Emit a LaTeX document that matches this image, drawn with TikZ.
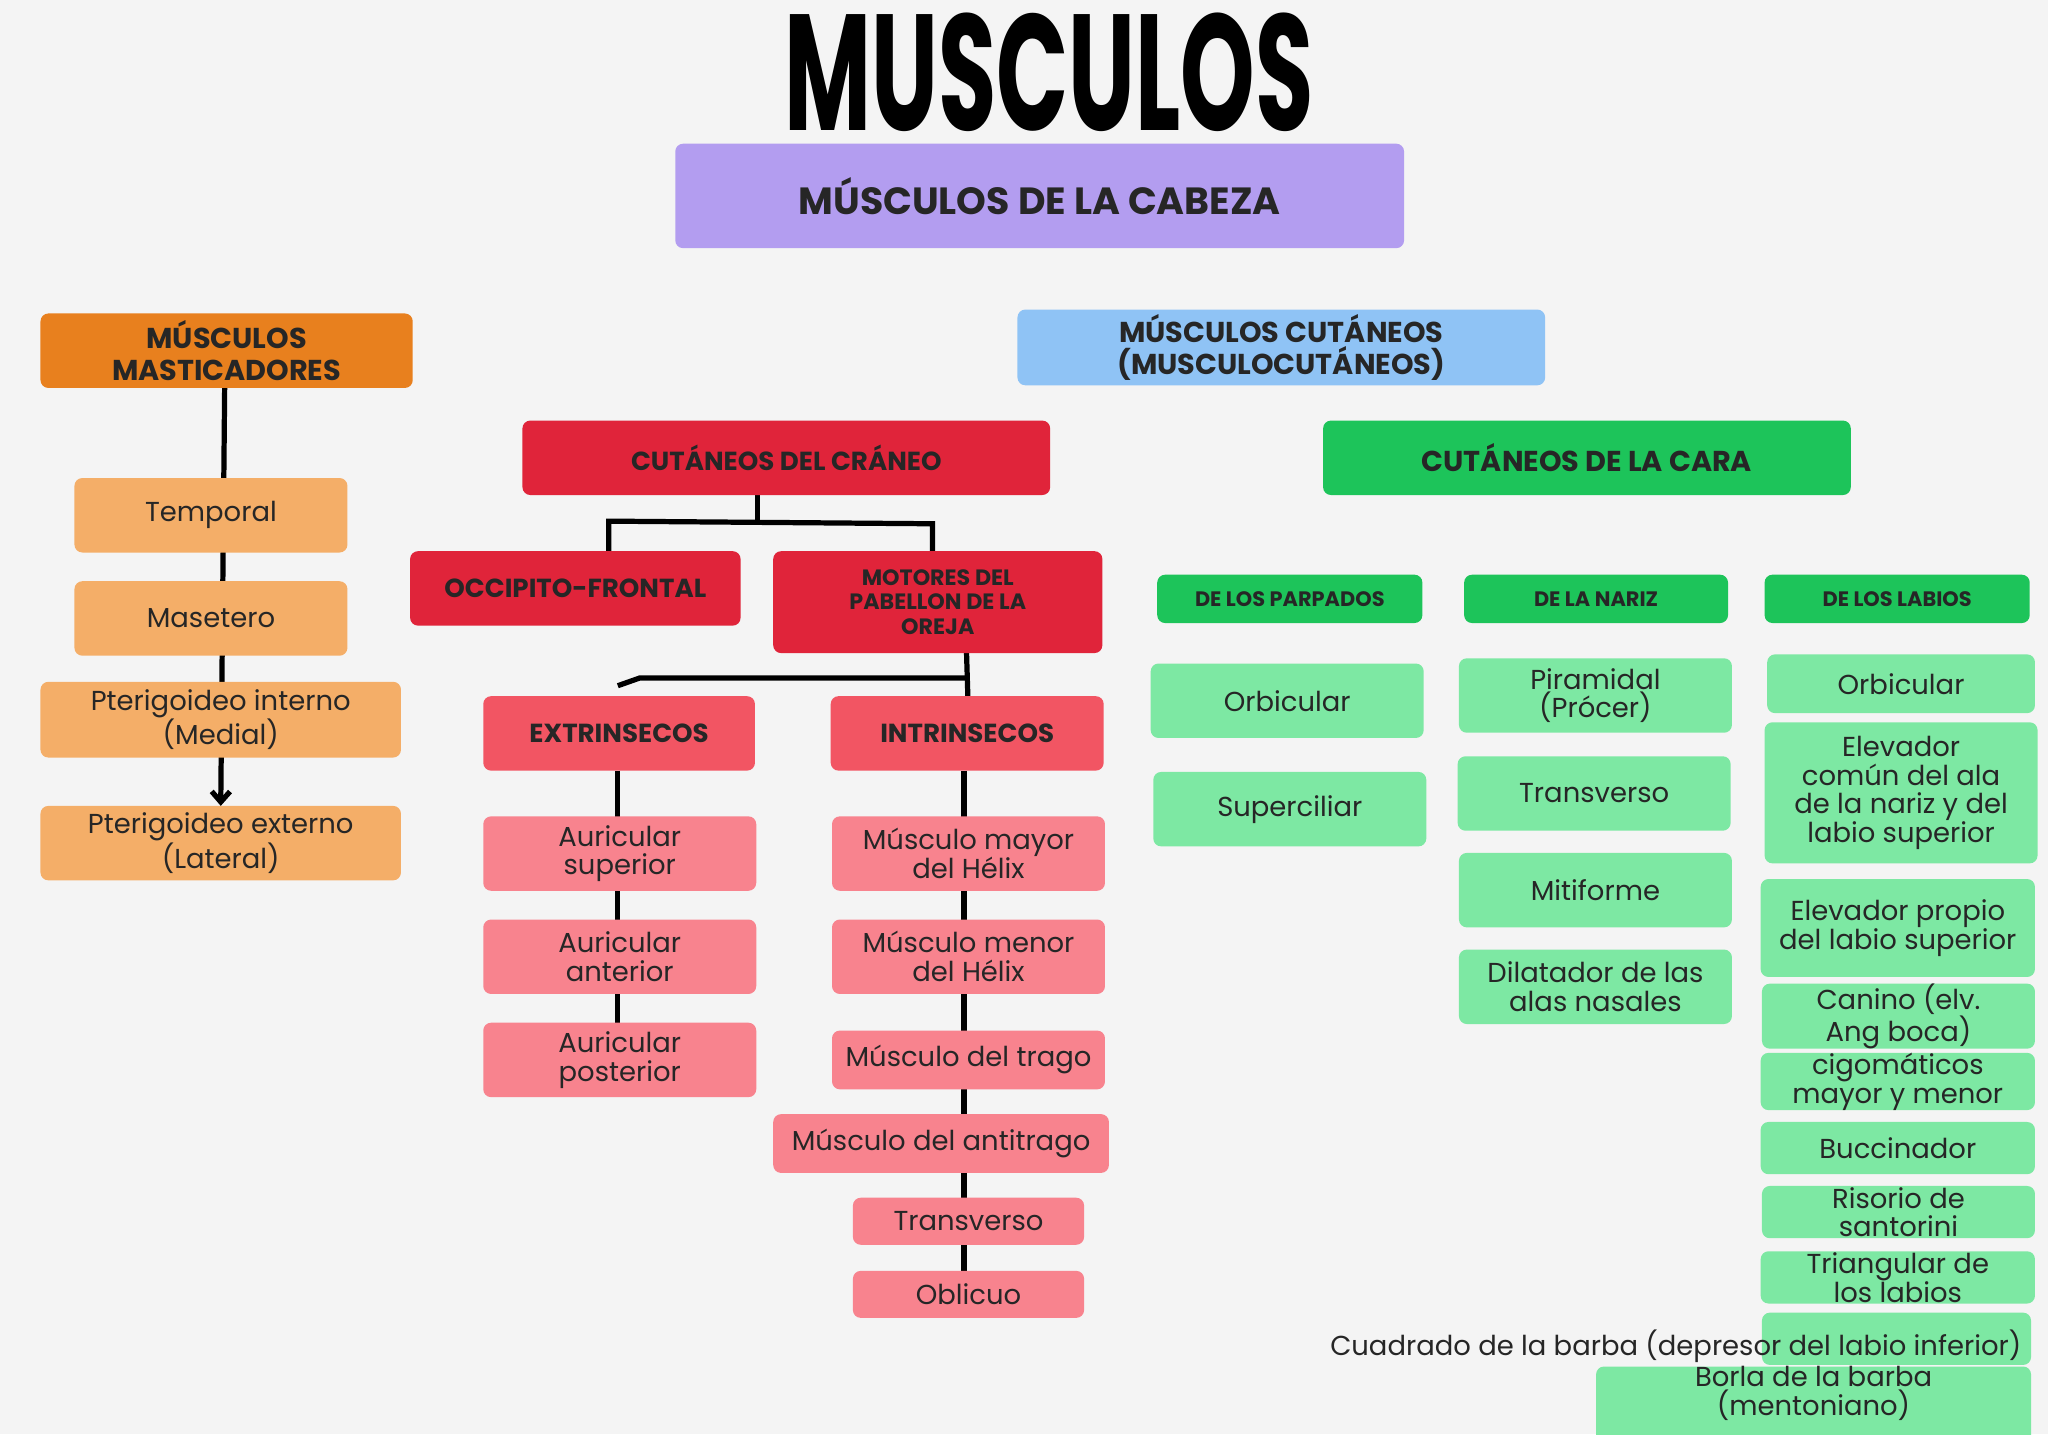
\documentclass[tikz,border=0pt]{standalone}
\usepackage{fontspec}
\setmainfont{Poppins}
\usetikzlibrary{arrows.meta}
\definecolor{bg}{HTML}{F4F4F4}
\definecolor{purp}{HTML}{B39DF0}
\definecolor{orD}{HTML}{E8801E}
\definecolor{orL}{HTML}{F4AE68}
\definecolor{blu}{HTML}{8FC3F5}
\definecolor{redD}{HTML}{E0243A}
\definecolor{redM}{HTML}{F25563}
\definecolor{pinkL}{HTML}{F8838E}
\definecolor{grD}{HTML}{1DC45A}
\definecolor{grL}{HTML}{7DE8A3}
\tikzset{
 bb/.style={rounded corners=6pt, inner sep=0pt, align=center, text=black!85},
 body/.style={bb, font=\fontsize{21}{22}\selectfont},
 head/.style={bb, font=\bfseries\fontsize{22}{24}\selectfont},
 small/.style={bb, font=\bfseries\fontsize{16}{17}\selectfont},
 conn/.style={line width=4pt, black}
}
\newcommand\mybox[7]{\node[#6, minimum width={(#4-#2)*1pt}, minimum height={(#5-#3)*1pt}] (#1) at ({(#2+#4)/2},{-(#3+#5)/2}) {#7};}
\begin{document}
\begin{tikzpicture}[x=1pt,y=1pt]
\fill[bg] (0,0) rectangle (1568,-1098);
\useasboundingbox (0,0) rectangle (1568,-1098);
% connectors first
\coordinate (m1) at (172,-297); \coordinate (m2) at (169,-617);
\draw[conn,-{Straight Barb[length=8pt,width=14pt]}] (m1) -- (m2);
\coordinate (c1) at (580,-379); \coordinate (c2) at (580,-399);
\coordinate (c3) at (466,-399); \coordinate (c4) at (714,-401);
\coordinate (c5) at (466,-422); \coordinate (c6) at (714,-422);
\draw[conn] (c1)--(c2); \draw[conn] (c5)--(c3)--(c4)--(c6);
\coordinate (d1) at (740,-500); \coordinate (d2) at (741,-533);
\coordinate (d3) at (740,-519); \coordinate (d4) at (490,-519); \coordinate (d5) at (473,-525);
\draw[conn] (d1)--(d2); \draw[conn] (d3)--(d4)--(d5);
\coordinate (e1) at (473,-590); \coordinate (e2) at (473,-783);
\draw[conn] (e1)--(e2);
\coordinate (f1) at (738,-590); \coordinate (f2) at (738,-973);
\draw[conn] (f1)--(f2);
% title
\node[inner sep=0pt] (title) at (803,-55) {\resizebox{405pt}{90pt}{\bfseries MUSCULOS}};
\mybox{cab}{517}{110}{1075}{190}{head,fill=purp,font=\bfseries\fontsize{29}{30}\selectfont}{MÚSCULOS DE LA CABEZA}
\mybox{mast}{31}{240}{316}{297}{head,fill=orD}{MÚSCULOS\\MASTICADORES}
\mybox{temp}{57}{366}{266}{423}{body,fill=orL}{Temporal}
\mybox{mase}{57}{445}{266}{502}{body,fill=orL}{Masetero}
\mybox{pti}{31}{522}{307}{580}{body,fill=orL}{Pterigoideo interno\\(Medial)}
\mybox{pte}{31}{617}{307}{674}{body,fill=orL}{Pterigoideo externo\\(Lateral)}
\mybox{cut}{779}{237}{1183}{295}{head,fill=blu}{MÚSCULOS CUTÁNEOS\\(MUSCULOCUTÁNEOS)}
\mybox{cra}{400}{322}{804}{379}{head,fill=redD,font=\bfseries\fontsize{20}{22}\selectfont}{CUTÁNEOS DEL CRÁNEO}
\mybox{occ}{314}{422}{567}{479}{head,fill=redD,font=\bfseries\fontsize{20}{22}\selectfont}{OCCIPITO-FRONTAL}
\mybox{mot}{592}{422}{844}{500}{head,fill=redD,font=\bfseries\fontsize{17}{19}\selectfont}{MOTORES DEL\\PABELLON DE LA\\OREJA}
\mybox{ext}{370}{533}{578}{590}{head,fill=redM,font=\bfseries\fontsize{20}{22}\selectfont}{EXTRINSECOS}
\mybox{int}{636}{533}{845}{590}{head,fill=redM,font=\bfseries\fontsize{20}{22}\selectfont}{INTRINSECOS}
\mybox{as}{370}{625}{579}{682}{body,fill=pinkL}{Auricular\\superior}
\mybox{aa}{370}{704}{579}{761}{body,fill=pinkL}{Auricular\\anterior}
\mybox{ap}{370}{783}{579}{840}{body,fill=pinkL}{Auricular\\posterior}
\mybox{mma}{637}{625}{846}{682}{body,fill=pinkL}{Músculo mayor\\del Hélix}
\mybox{mme}{637}{704}{846}{761}{body,fill=pinkL}{Músculo menor\\del Hélix}
\mybox{mtr}{637}{789}{846}{834}{body,fill=pinkL}{Músculo del trago}
\mybox{man}{592}{853}{849}{898}{body,fill=pinkL}{Músculo del antitrago}
\mybox{tra}{653}{917}{830}{953}{body,fill=pinkL}{Transverso}
\mybox{obl}{653}{973}{830}{1009}{body,fill=pinkL}{Oblicuo}
\mybox{car}{1013}{322}{1417}{379}{head,fill=grD}{CUTÁNEOS DE LA CARA}
\mybox{par}{886}{440}{1089}{477}{small,fill=grD}{DE LOS PARPADOS}
\mybox{nar}{1121}{440}{1323}{477}{small,fill=grD}{DE LA NARIZ}
\mybox{lab}{1351}{440}{1554}{477}{small,fill=grD}{DE LOS LABIOS}
\mybox{porb}{881}{508}{1090}{565}{body,fill=grL}{Orbicular}
\mybox{psup}{883}{591}{1092}{648}{body,fill=grL}{Superciliar}
\mybox{npir}{1117}{504}{1326}{561}{body,fill=grL}{Piramidal\\(Prócer)}
\mybox{ntra}{1116}{579}{1325}{636}{body,fill=grL}{Transverso}
\mybox{nmit}{1117}{653}{1326}{710}{body,fill=grL}{Mitiforme}
\mybox{ndil}{1117}{727}{1326}{784}{body,fill=grL}{Dilatador de las\\alas nasales}
\mybox{lorb}{1353}{501}{1558}{546}{body,fill=grL}{Orbicular}
\mybox{lelc}{1351}{553}{1560}{661}{body,fill=grL}{Elevador\\común del ala\\de la nariz y del\\labio superior}
\mybox{lelp}{1348}{673}{1558}{748}{body,fill=grL}{Elevador propio\\del labio superior}
\mybox{lcan}{1349}{758}{1558}{798}{body,fill=grL}{Canino (elv.\\Ang boca)}
\mybox{lcig}{1348}{808}{1558}{848}{body,fill=grL}{cigomáticos\\mayor y menor}
\mybox{lbuc}{1348}{859}{1558}{899}{body,fill=grL}{Buccinador}
\mybox{lris}{1349}{908}{1558}{948}{body,fill=grL}{Risorio de\\santorini}
\mybox{ltri}{1348}{958}{1558}{998}{body,fill=grL}{Triangular de\\los labios}
\mybox{lcua}{1349}{1005}{1555}{1045}{body,fill=grL}{}
\node[body] (tcua) at (1283,-1031) {Cuadrado de la barba (depresor del labio inferior)};
\mybox{lbor}{1222}{1050}{1555}{1110}{body,fill=grL}{Borla de la barba\\(mentoniano)\\[8pt]}
\end{tikzpicture}
\end{document}
